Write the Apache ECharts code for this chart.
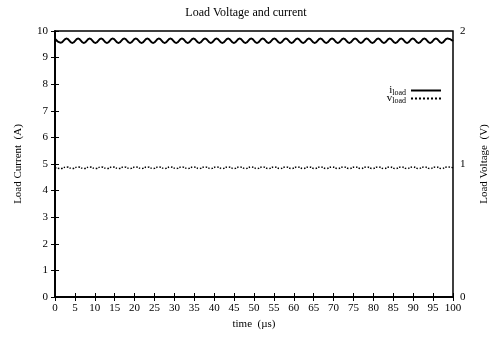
<!DOCTYPE html>
<html>
<head>
<meta charset="utf-8">
<script src="https://cdn.jsdelivr.net/npm/echarts@6/dist/echarts.min.js"></script>
<style>html,body{margin:0;padding:0;background:#fff}#c{width:492px;height:338px}</style>
</head>
<body>
<div id="c"></div>
<script>
// time samples (µs) at peaks / troughs of the ripple
var time = [0, 1.45, 2.9, 4.35, 5.8, 7.25, 8.7, 10.15, 11.6, 13.05, 14.5, 15.95, 17.4, 18.85, 20.3, 21.75, 23.2, 24.65, 26.1, 27.55, 29, 30.45, 31.9, 33.35, 34.8, 36.25, 37.7, 39.15, 40.6, 42.05, 43.5, 44.95, 46.4, 47.85, 49.3, 50.75, 52.2, 53.65, 55.1, 56.55, 58, 59.45, 60.9, 62.35, 63.8, 65.25, 66.7, 68.15, 69.6, 71.05, 72.5, 73.95, 75.4, 76.85, 78.3, 79.75, 81.2, 82.65, 84.1, 85.55, 87, 88.45, 89.9, 91.35, 92.8, 94.25, 95.7, 97.15, 98.6, 100];
// load current (A)
var current = [9.70, 9.56, 9.72, 9.55, 9.72, 9.55, 9.72, 9.55, 9.72, 9.55, 9.72, 9.55, 9.72, 9.55, 9.72, 9.55, 9.72, 9.55, 9.72, 9.55, 9.72, 9.55, 9.72, 9.55, 9.72, 9.55, 9.72, 9.55, 9.72, 9.55, 9.72, 9.55, 9.72, 9.55, 9.72, 9.55, 9.72, 9.55, 9.72, 9.55, 9.72, 9.55, 9.72, 9.55, 9.72, 9.55, 9.72, 9.55, 9.72, 9.55, 9.72, 9.55, 9.72, 9.55, 9.72, 9.55, 9.72, 9.55, 9.72, 9.55, 9.72, 9.55, 9.72, 9.55, 9.72, 9.55, 9.72, 9.55, 9.72, 9.62];
// load voltage (V)
var voltage = [0.972, 0.966, 0.978, 0.966, 0.978, 0.966, 0.978, 0.966, 0.978, 0.966, 0.978, 0.966, 0.978, 0.966, 0.978, 0.966, 0.978, 0.966, 0.978, 0.966, 0.978, 0.966, 0.978, 0.966, 0.978, 0.966, 0.978, 0.966, 0.978, 0.966, 0.978, 0.966, 0.978, 0.966, 0.978, 0.966, 0.978, 0.966, 0.978, 0.966, 0.978, 0.966, 0.978, 0.966, 0.978, 0.966, 0.978, 0.966, 0.978, 0.966, 0.978, 0.966, 0.978, 0.966, 0.978, 0.966, 0.978, 0.966, 0.978, 0.966, 0.978, 0.966, 0.978, 0.966, 0.978, 0.966, 0.978, 0.966, 0.978, 0.972];
var seriesNames = ['i_load', 'v_load'];

var FONT = '"Liberation Serif", "DejaVu Serif", serif';
var chart = echarts.init(document.getElementById('c'), null, {renderer: 'canvas'});
function pairs(xs, ys) { return xs.map(function (x, i) { return [x, ys[i]]; }); }
var lbl = {fontFamily: FONT, fontSize: 11, color: '#000'};
var axLine = {show: true, lineStyle: {color: '#000', width: 1.5}};
var tick = {show: true, inside: true, length: 4, lineStyle: {color: '#000', width: 1}};

function legendFor(name, top) {
  return {
    orient: 'vertical', right: 50, top: top, align: 'right', padding: 0,
    itemWidth: 30, itemHeight: 8, itemGap: 0,
    itemStyle: {color: 'rgba(0,0,0,0)', borderWidth: 0, opacity: 0},
    data: [name],
    formatter: function (n) { var p = n.split('_'); return '{a|' + p[0] + '}{b|' + p[1] + '}'; },
    textStyle: {fontFamily: FONT, color: '#000', padding: [0, 0, 0, 0],
      rich: {a: {fontFamily: FONT, fontSize: 11, color: '#000', lineHeight: 12},
             b: {fontFamily: FONT, fontSize: 8, color: '#000', lineHeight: 12, padding: [5, 0, 0, 0]}}}
  };
}

chart.setOption({
  animation: false,
  backgroundColor: '#fff',
  title: {text: 'Load Voltage and current', left: 'center', top: 2,
    textStyle: {fontFamily: FONT, fontSize: 12, fontWeight: 'normal', color: '#000'}},
  grid: {left: 55, right: 39, top: 31, bottom: 41, outerBoundsMode: 'none', containLabel: false,
    show: true, borderColor: '#000', borderWidth: 1.5},
  legend: [legendFor(seriesNames[0], 84), legendFor(seriesNames[1], 92)],
  xAxis: [
    {type: 'value', min: 0, max: 100, interval: 5, position: 'bottom',
     name: 'time  (µs)', nameLocation: 'middle', nameGap: 22,
     nameTextStyle: lbl, axisLine: axLine, axisTick: tick, splitLine: {show: false},
     axisLabel: Object.assign({margin: 6}, lbl)},
    {type: 'value', min: 0, max: 100, interval: 5, position: 'top',
     axisLine: axLine, axisTick: tick, splitLine: {show: false}, axisLabel: {show: false}}
  ],
  yAxis: [
    {type: 'value', min: 0, max: 10, interval: 1, position: 'left',
     name: 'Load Current  (A)', nameLocation: 'middle', nameGap: 31, nameRotate: 90,
     nameTextStyle: lbl, axisLine: axLine, axisTick: tick, splitLine: {show: false},
     axisLabel: Object.assign({margin: 7}, lbl)},
    {type: 'value', min: 0, max: 2, interval: 0.2, position: 'right',
     name: 'Load Voltage  (V)', nameLocation: 'middle', nameGap: 26, nameRotate: 90,
     nameTextStyle: lbl, axisLine: axLine, axisTick: tick, splitLine: {show: false},
     axisLabel: Object.assign({margin: 7, formatter: function (v) {
       return Math.abs(v - Math.round(v)) < 1e-6 ? String(Math.round(v)) : ''; }}, lbl)}
  ],
  series: [
    {name: seriesNames[0], type: 'line', xAxisIndex: 0, yAxisIndex: 0, smooth: 0.5, symbol: 'none',
     lineStyle: {color: '#000', width: 2, type: 'solid'}, itemStyle: {color: '#000'},
     data: pairs(time, current)},
    {name: seriesNames[1], type: 'line', xAxisIndex: 0, yAxisIndex: 1, smooth: 0.5, symbol: 'none',
     lineStyle: {color: '#000', width: 1.5, type: 'dotted'}, itemStyle: {color: '#000'},
     data: pairs(time, voltage)}
  ]
});
</script>
</body>
</html>
